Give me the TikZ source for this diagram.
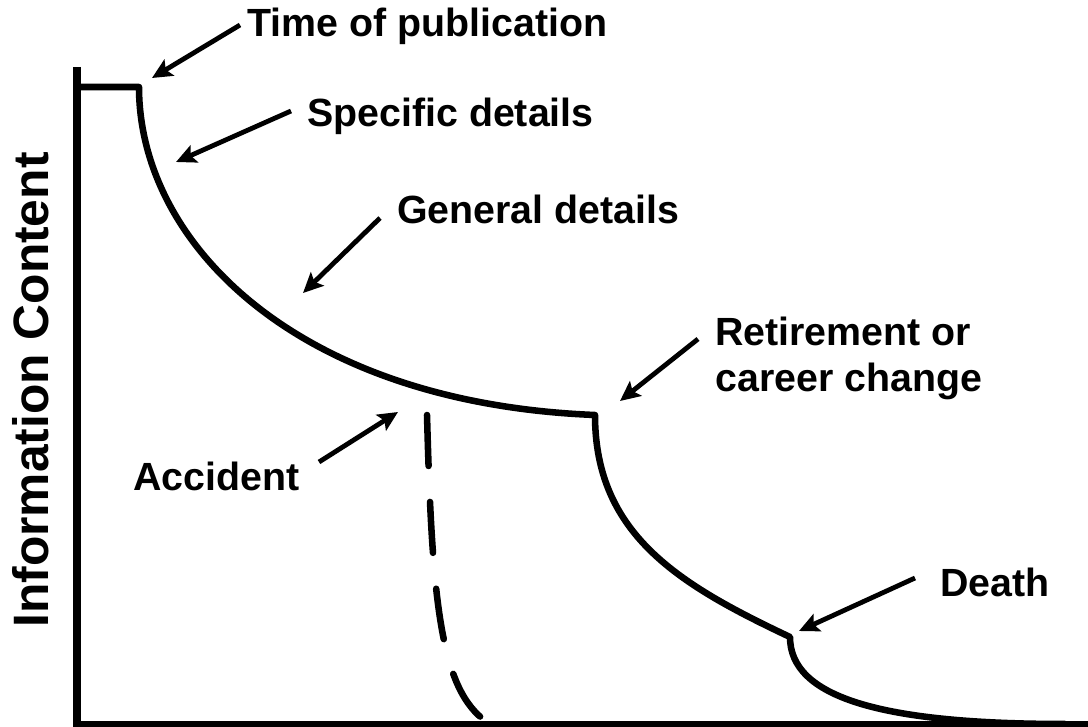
\documentclass[tikz,border=0pt]{standalone}
\usepackage{fontspec}
\setmainfont{Liberation Sans}
\usetikzlibrary{arrows.meta}
\begin{document}
\begin{tikzpicture}[x=0.75pt,y=-0.75pt,
  lbl/.style={font=\fontsize{29.5}{34.5}\selectfont\bfseries, inner sep=0pt, anchor=base west, align=left},
  curve/.style={line width=4.9pt, line join=round, line cap=round},
  dashcurve/.style={curve, dash pattern=on 38.25pt off 27pt},
  axis/.style={line width=6pt},
  pointer/.style={line width=3.6pt, -{Stealth[length=15pt,width=14pt,inset=3pt]}}]
\useasboundingbox (0,0) rectangle (1088,727);

% axes
\coordinate (ytop) at (77,67);
\coordinate (xend) at (1092,725);
\draw[axis] (ytop) |- (xend);

% axis label
\node[font=\fontsize{37.3}{40}\selectfont\bfseries, inner sep=0pt, rotate=90, anchor=base] (ylab) at (48,390) {Information Content};

% information content over time
\coordinate (start) at (77,87);
\coordinate (pub) at (139,87);
\coordinate (ret) at (595,415);
\coordinate (death) at (790,637);
\coordinate (fade) at (1065,724);
\draw[curve] (start) -- (pub)
  .. controls (139,242) and (295,403) .. (ret)
  .. controls (595,535) and (680,585) .. (death)
  .. controls (790,697) and (880,724) .. (fade);

% accident: sudden drop
\coordinate (accTop) at (427,415);
\coordinate (accEnd) at (487,722);
\draw[dashcurve] (accTop) .. controls (432,600) and (440,690) .. (accEnd);

% labels
\node[lbl] (tp) at (247,37) {Time of publication};
\node[lbl] (sd) at (307,127) {Specific details};
\node[lbl] (gd) at (397,224) {General details};
\node[lbl] (rc) at (715,391) {Retirement or\\career change};
\node[lbl] (ac) at (133,490) {Accident};
\node[lbl] (dt) at (940,596) {Death};

% pointers
\coordinate (tpA) at (240,25);  \coordinate (tpB) at (152,78);
\coordinate (sdA) at (291,111); \coordinate (sdB) at (176,162);
\coordinate (gdA) at (380,218); \coordinate (gdB) at (303,293);
\coordinate (rcA) at (698,339); \coordinate (rcB) at (620,401);
\coordinate (acA) at (319,462); \coordinate (acB) at (398,412);
\coordinate (dtA) at (915,578); \coordinate (dtB) at (799,631);
\draw[pointer] (tpA) -- (tpB);
\draw[pointer] (sdA) -- (sdB);
\draw[pointer] (gdA) -- (gdB);
\draw[pointer] (rcA) -- (rcB);
\draw[pointer] (acA) -- (acB);
\draw[pointer] (dtA) -- (dtB);
\end{tikzpicture}
\end{document}
